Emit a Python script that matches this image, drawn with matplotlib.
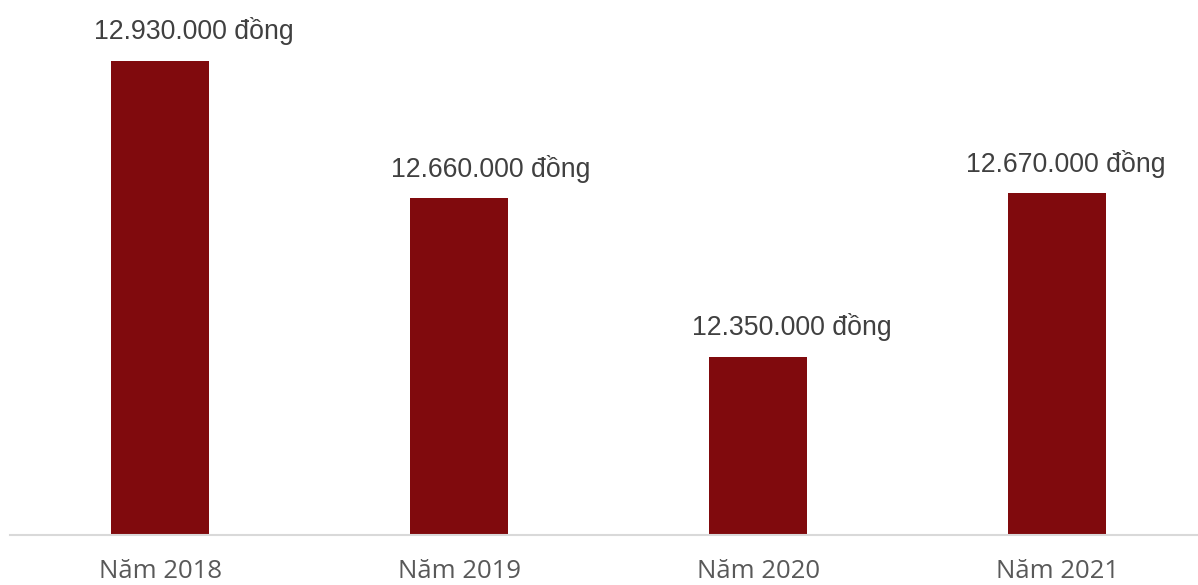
import matplotlib.pyplot as plt

years = ['Năm 2018', 'Năm 2019', 'Năm 2020', 'Năm 2021']
values = [12.93, 12.66, 12.35, 12.67]  # triệu đồng
labels = ['12.930.000 đồng', '12.660.000 đồng', '12.350.000 đồng', '12.670.000 đồng']

W, H = 1198, 585
fig = plt.figure(figsize=(W / 100, H / 100), dpi=100)
# axes spans x 10..1198 px, y baseline at 535 px, 510 px per unit
ax = fig.add_axes([10 / W, (H - 535) / H, 1188 / W, 510 / H])

x = range(len(years))
ax.bar(x, values, width=0.328, color='#800a0d', zorder=2)
ax.set_xlim(-0.502, 3.471)
ax.set_ylim(12.0, 13.0)

# labels sit a little right of bar centre, last one pushed in by the edge
label_dx = [24, 23, 24, 6]
for xi, v, lab, dx in zip(x, values, labels, label_dx):
    ax.annotate(lab, (xi, v), xytext=(dx, 11), textcoords='offset points',
                ha='center', va='bottom', fontsize=19.2, color='#404040',
                family='Liberation Sans')

ax.set_xticks(list(x))
ax.set_xticklabels(years, fontsize=18.5, color='#595959', family='Open Sans')
ax.tick_params(axis='x', length=0, pad=17)
ax.set_yticks([])
for s in ['top', 'right', 'left']:
    ax.spines[s].set_visible(False)
ax.spines['bottom'].set_color('#d9d9d9')
ax.spines['bottom'].set_linewidth(1.5)

fig.savefig('out.png', dpi=100)
